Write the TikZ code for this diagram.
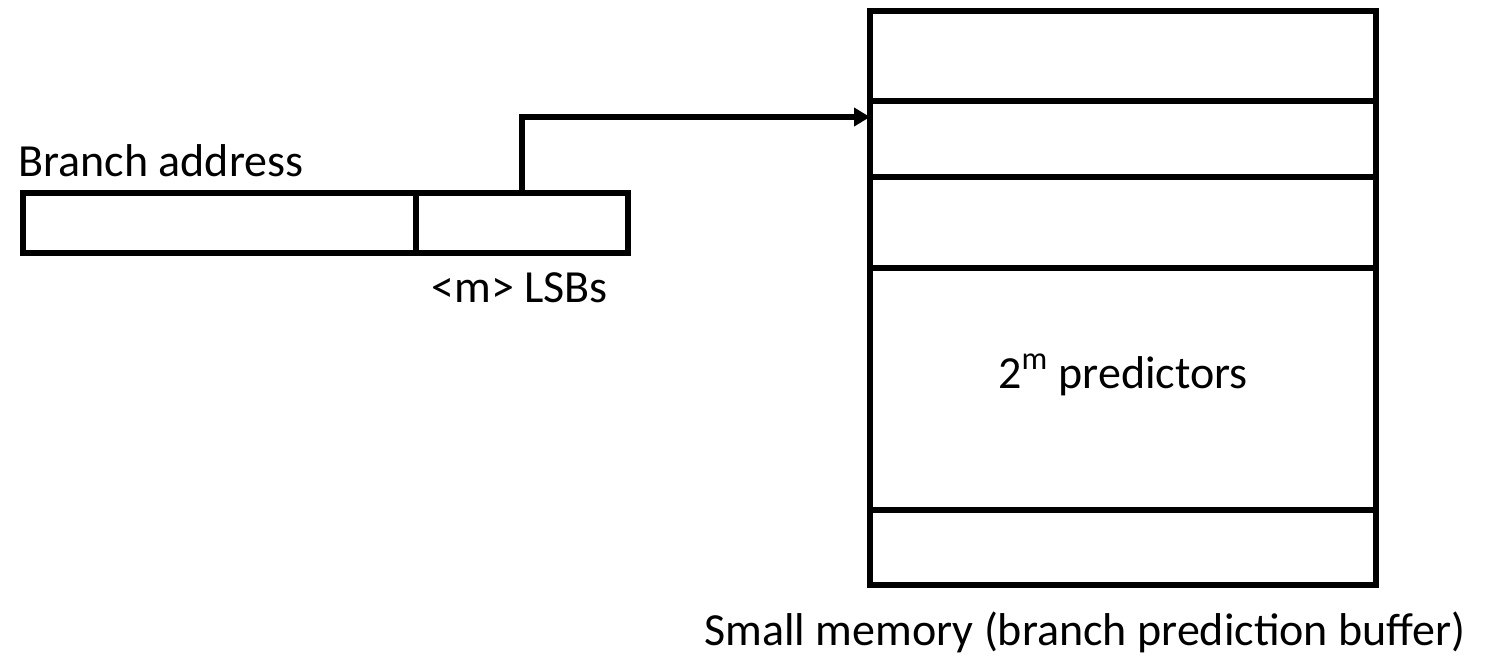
\documentclass[tikz,border=0pt]{standalone}
\usepackage{fontspec}
\setmainfont{Carlito}
\usetikzlibrary{arrows.meta}
\begin{document}
\begin{tikzpicture}[x=0.5pt,y=-0.5pt,
  line/.style={line width=2.6pt},
  lbl/.style={inner sep=0pt,font=\fontsize{23}{27}\selectfont}]
\useasboundingbox (0,0) rectangle (1491,665);
% branch address register
\draw[line] (23,193) rectangle (628,253);
\draw[line] (416,193) -- (416,253);
\coordinate (tap) at (522,193);
\node[lbl,anchor=base west] (addr) at (18,176) {Branch address};
\node[lbl,anchor=base west] (lsb) at (431,302) {<m> LSBs};
% prediction buffer
\draw[line] (870,11) rectangle (1376,585);
\foreach \y in {101,177,268,510} \draw[line] (870,\y) -- (1376,\y);
\coordinate (entry) at (870,117);
\node[lbl,anchor=base] (pred) at (1123,388) {2\textsuperscript{m} predictors};
\node[lbl,anchor=base] (mem) at (1085,645) {Small memory (branch prediction buffer)};
% index connector
\draw[line,-{Triangle[length=8pt,width=9pt]}] (tap) |- (entry);
\end{tikzpicture}
\end{document}
